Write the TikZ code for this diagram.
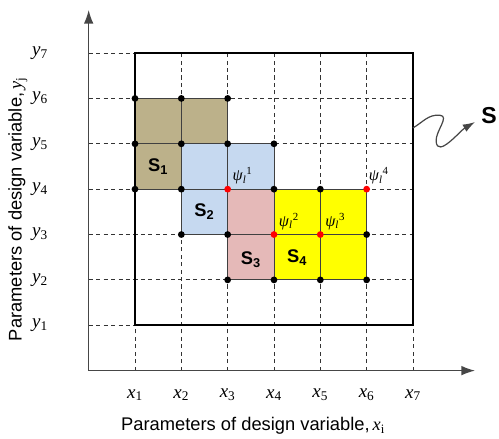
\documentclass[tikz,border=0pt]{standalone}
\usepackage{fontspec}
\setmainfont{Liberation Sans}
\newfontfamily\serifit{Liberation Serif}
\usepackage{tikz}
\usetikzlibrary{positioning,arrows.meta}
\definecolor{softtan}{RGB}{188,177,138}
\definecolor{softblue}{RGB}{198,217,240}
\definecolor{softpink}{RGB}{229,185,184}
\definecolor{brightyellow}{RGB}{255,255,0}
\definecolor{axisgrey}{RGB}{70,70,70}
\newcommand{\varlab}[2]{{\serifit\itshape #1}\textsubscript{\serifit #2}}
\newcommand{\psilab}[1]{{\serifit\itshape ψ\textsubscript{l}\textsuperscript{\upshape #1}}}
\tikzset{
    gridline/.style={
        draw=black!80,
        dash pattern=on 3pt off 2.5pt,
        line width=0.6pt
    },
    cellbox/.style={
        draw=black!75,
        line width=0.7pt
    },
    frame/.style={
        draw=black,
        line width=1.4pt
    },
    axisline/.style={
        draw=axisgrey,
        line width=0.9pt,
        -{Latex[length=10pt,width=7pt]}
    },
    blackdot/.style={
        circle,
        fill=black,
        inner sep=0pt,
        minimum size=5pt
    },
    reddot/.style={
        circle,
        fill=red,
        inner sep=0pt,
        minimum size=5pt
    },
    ticklabel/.style={
        font=\fontsize{14}{16}\selectfont
    },
    regionlabel/.style={
        font=\fontsize{13.5}{16}\selectfont\bfseries
    },
    psilabel/.style={
        font=\fontsize{12}{14}\selectfont,
        inner sep=1pt
    },
    axislabel/.style={
        font=\fontsize{13.5}{16}\selectfont
    },
    setlabel/.style={
        font=\fontsize{17}{19}\selectfont\bfseries
    }
}

\begin{document}
\begin{tikzpicture}[x=1.2cm, y=1.175cm]

\useasboundingbox (-1.914,-1.493) rectangle (8.857,8.17);

% ------------------------------------------------------------
% Grid and frame
% ------------------------------------------------------------

\foreach \i in {1,...,7} {
    \draw[gridline] (0,\i) -- (7,\i);
    \draw[gridline] (\i,0) -- (\i,7);
}

% cells of the four sets
\foreach \cx/\cy/\col in {1/5/softtan, 2/5/softtan, 1/4/softtan,
                          2/4/softblue, 3/4/softblue, 2/3/softblue,
                          3/3/softpink, 3/2/softpink,
                          4/3/brightyellow, 5/3/brightyellow,
                          4/2/brightyellow, 5/2/brightyellow}
    \filldraw[cellbox, fill=\col] (\cx,\cy) rectangle ++(1,1);

\draw[frame] (1,1) rectangle (7,7);

% ------------------------------------------------------------
% Axes
% ------------------------------------------------------------

\coordinate (origin) at (0,0);
\coordinate (ytip) at (0,7.95);
\coordinate (xtip) at (8.34,0);

\draw[axisline] (origin) -- (ytip);
\draw[axisline] (origin) -- (xtip);

\foreach \i in {1,...,7} {
    \node[ticklabel] (xlab-\i) at (\i,-0.54) {\varlab{x}{\i}};
    \node[ticklabel] (ylab-\i) at (-1.05,\i) {\varlab{y}{\i}};
}

\node[axislabel] (xtitle) at (3.55,-1.21)
{Parameters of design variable,\,\varlab{x}{i}};

\node[axislabel, rotate=90] (ytitle) at (-1.53,3.56)
{Parameters of design variable,\,\varlab{y}{j}};

% ------------------------------------------------------------
% Corner points
% ------------------------------------------------------------

\foreach \px/\py in {1/6, 2/6, 3/6, 1/5, 2/5, 3/5, 4/5,
                     1/4, 2/4, 4/4, 5/4, 2/3, 3/3, 6/3,
                     3/2, 4/2, 5/2, 6/2}
    \node[blackdot] (p-\px-\py) at (\px,\py) {};

\node[reddot] (r1) at (3,4) {};
\node[reddot] (r2) at (4,3) {};
\node[reddot] (r3) at (5,3) {};
\node[reddot] (r4) at (6,4) {};

% ------------------------------------------------------------
% Labels
% ------------------------------------------------------------

\node[regionlabel] (s1) at (1.5,4.5) {S\textsubscript{1}};
\node[regionlabel] (s2) at (2.5,3.5) {S\textsubscript{2}};
\node[regionlabel] (s3) at (3.5,2.45) {S\textsubscript{3}};
\node[regionlabel] (s4) at (4.5,2.5) {S\textsubscript{4}};

\node[psilabel, above right=0.02cm and 0.02cm of r1] (psi1) {\psilab{1}};
\node[psilabel, above right=0.02cm and 0.02cm of r2] (psi2) {\psilab{2}};
\node[psilabel, above right=0.02cm and 0.02cm of r3] (psi3) {\psilab{3}};
\node[psilabel, above right=0.02cm and -0.05cm of r4] (psi4) {\psilab{4}};

% ------------------------------------------------------------
% Whole design space
% ------------------------------------------------------------

\coordinate (wave-start) at (7,5.35);
\coordinate (wave-end) at (8.34,5.48);
\node[setlabel] (setS) at (8.64,5.63) {S};

\draw[draw=axisgrey, line width=0.9pt, -{Latex[length=9pt,width=6pt]}]
  (wave-start) to[out=30,in=175] (7.58,5.63)
  to[out=-5,in=95] (7.5,5.05)
  to[out=-85,in=210] (wave-end);

\end{tikzpicture}
\end{document}
